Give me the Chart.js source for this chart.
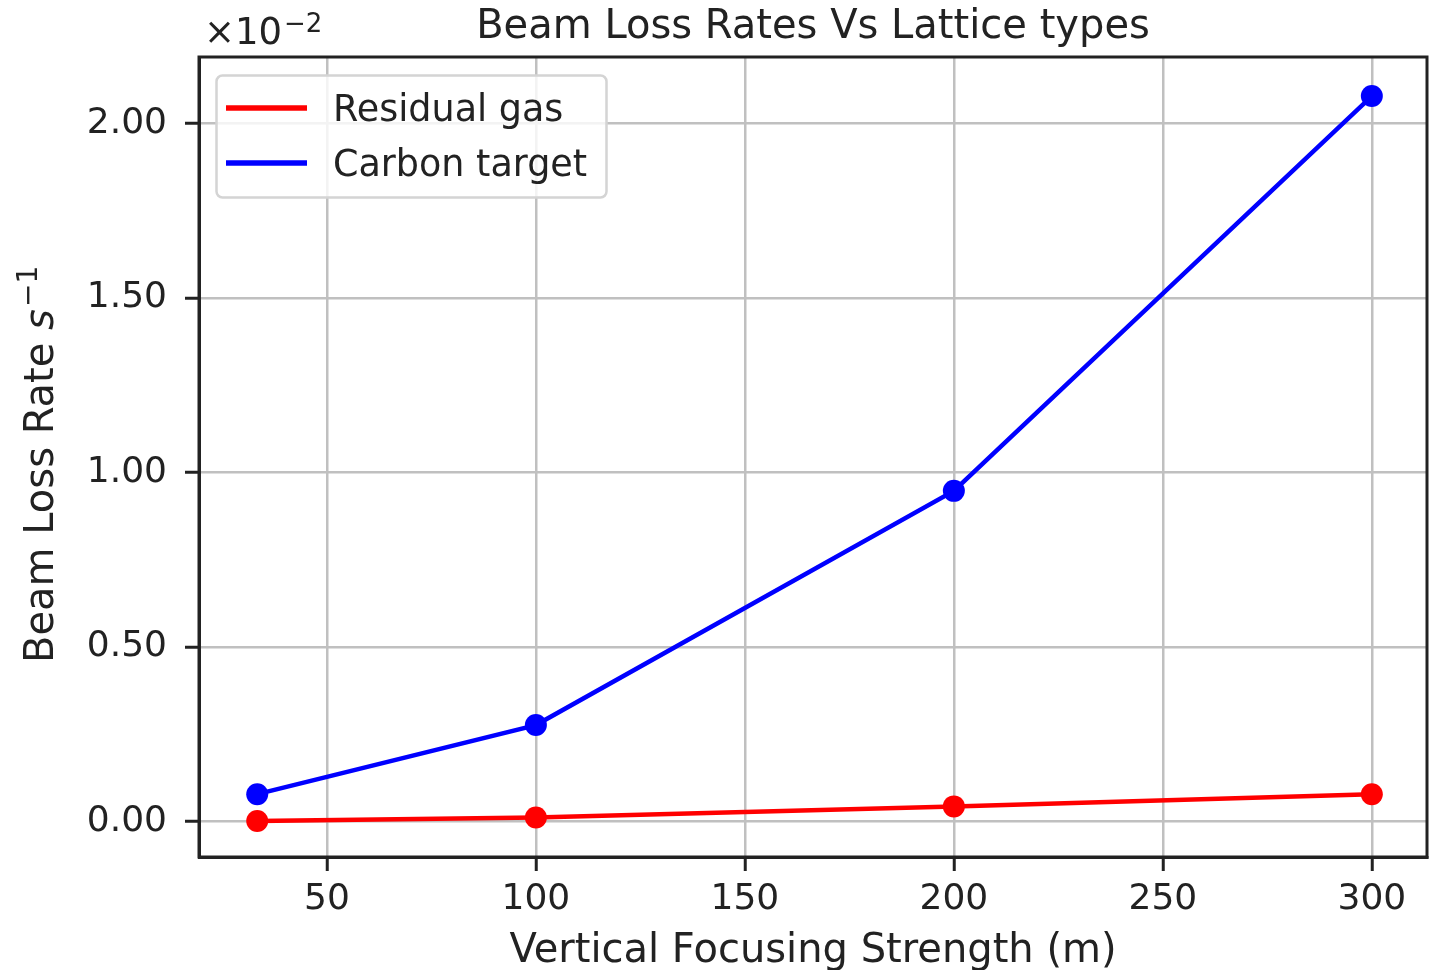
<!DOCTYPE html>
<html>
<head>
<meta charset="utf-8">
<script src="https://cdn.jsdelivr.net/npm/chart.js@4.4.1/dist/chart.umd.min.js"></script>
<style>
    html, body { margin: 0; padding: 0; background: #ffffff; }
</style>
</head>
<body>
<canvas id="lossChart" width="1442" height="970"></canvas>
<script>
// vertical focusing strength (m)
const focusing = [33.33, 100, 200, 300];
// loss rates, in units of 1e-2 s^-1
const residualGas = [0.001, 0.011, 0.043, 0.078];
const carbonTarget = [0.078, 0.276, 0.947, 2.078];

const xTicks = [50, 100, 150, 200, 250, 300];
const yTicks = [0, 0.5, 1.0, 1.5, 2.0];

const seriesNames = ['Residual gas', 'Carbon target'];
const seriesColors = ['#ff0000', '#0000ff'];

const FONT = '"DejaVu Sans", sans-serif';
const INK = '#222222';

const toPoints = (ys) => focusing.map((x, i) => ({ x, y: ys[i] }));

// titles, offset text, frame and legend drawn by hand, matplotlib style
const decorations = {
    id: 'decorations',
    afterDatasetsDraw(chart) {
        const { ctx, chartArea: a } = chart;
        ctx.save();
        ctx.strokeStyle = INK;
        ctx.lineWidth = 3;
        ctx.strokeRect(a.left, a.top, a.right - a.left, a.bottom - a.top);
        ctx.restore();
    },
    afterDraw(chart) {
        const { ctx, chartArea: a } = chart;
        const cx = (a.left + a.right) / 2;
        ctx.save();
        ctx.fillStyle = INK;

        // title
        ctx.font = `40px ${FONT}`;
        ctx.textAlign = 'center';
        ctx.textBaseline = 'alphabetic';
        ctx.fillText('Beam Loss Rates Vs Lattice types', cx, 38);

        // x label
        ctx.fillText('Vertical Focusing Strength (m)', cx, 962);

        // offset text x10^-2
        ctx.textAlign = 'left';
        ctx.font = `37px ${FONT}`;
        ctx.fillText('\u00d710', 204, 44);
        const wBase = ctx.measureText('\u00d710').width;
        ctx.font = `26px ${FONT}`;
        ctx.fillText('\u22122', 204 + wBase + 2, 32);

        // y label with s^-1
        ctx.save();
        ctx.translate(53, 663);
        ctx.rotate(-Math.PI / 2);
        ctx.font = `40px ${FONT}`;
        const head = 'Beam Loss Rate ';
        ctx.fillText(head, 0, 0);
        let w = ctx.measureText(head).width;
        ctx.font = `italic 40px ${FONT}`;
        ctx.fillText('s', w, 0);
        w += ctx.measureText('s').width + 2;
        ctx.font = `28px ${FONT}`;
        ctx.fillText('\u22121', w, -16);
        ctx.restore();

        // legend
        ctx.beginPath();
        ctx.roundRect(216.5, 75.5, 390, 122, 6);
        ctx.fillStyle = 'rgba(255,255,255,0.8)';
        ctx.fill();
        ctx.strokeStyle = '#d4d4d4';
        ctx.lineWidth = 2.5;
        ctx.stroke();

        chart.data.datasets.forEach((ds, i) => {
            const y = 108 + i * 55;
            ctx.beginPath();
            ctx.moveTo(226, y);
            ctx.lineTo(307, y);
            ctx.strokeStyle = ds.borderColor;
            ctx.lineWidth = 5.5;
            ctx.stroke();
            ctx.fillStyle = INK;
            ctx.font = `36.5px ${FONT}`;
            ctx.fillText(ds.label, 333, y + 13);
        });
        ctx.restore();
    }
};

const gridStyle = {
    color: '#c0c0c0',
    lineWidth: 2.5,
    tickColor: INK,
    tickLength: 14,
    tickWidth: 3
};

new Chart(document.getElementById('lossChart'), {
    type: 'line',
    data: {
        datasets: [residualGas, carbonTarget].map((ys, i) => ({
            label: seriesNames[i],
            data: toPoints(ys),
            borderColor: seriesColors[i],
            backgroundColor: seriesColors[i],
            borderWidth: 4.5,
            pointRadius: 11,
            pointBorderWidth: 0,
            pointBackgroundColor: seriesColors[i],
            tension: 0,
            clip: false
        }))
    },
    options: {
        responsive: false,
        animation: false,
        devicePixelRatio: 1,
        layout: { padding: { top: 57, right: 15, left: 0, bottom: 0 } },
        plugins: {
            legend: { display: false },
            title: { display: false },
            tooltip: { enabled: false }
        },
        scales: {
            x: {
                type: 'linear',
                min: 19.4,
                max: 313.2,
                afterBuildTicks: (s) => { s.ticks = xTicks.map((value) => ({ value })); },
                afterFit: (s) => { s.height = 113; },
                ticks: {
                    font: { family: FONT, size: 36 },
                    color: INK,
                    padding: 7,
                    maxRotation: 0,
                    callback: (v) => String(v)
                },
                grid: gridStyle,
                border: { color: INK, width: 3 }
            },
            y: {
                type: 'linear',
                min: -0.102,
                max: 2.19,
                afterBuildTicks: (s) => { s.ticks = yTicks.map((value) => ({ value })); },
                afterFit: (s) => { s.width = 199; },
                ticks: {
                    font: { family: FONT, size: 36 },
                    color: INK,
                    padding: 18,
                    callback: (v) => Number(v).toFixed(2)
                },
                grid: gridStyle,
                border: { color: INK, width: 3 }
            }
        }
    },
    plugins: [decorations]
});
</script>
</body>
</html>
